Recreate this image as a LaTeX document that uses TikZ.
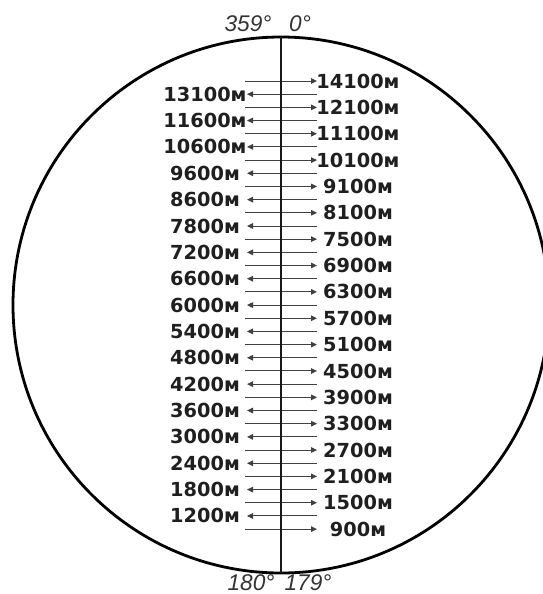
\documentclass[tikz,border=0pt]{standalone}
\usepackage{fontspec}
\setmainfont{Liberation Sans}
\newfontfamily\rangefont{DejaVu Sans}
\usetikzlibrary{arrows.meta}
\tikzset{
  rangelabel/.style={font=\rangefont\bfseries\fontsize{14.5}{14.5}\selectfont,text=black!88,inner sep=0pt},
  bearinglabel/.style={font=\itshape\fontsize{17}{17}\selectfont,text=black!80,inner sep=0pt},
  rangearrow/.style={-{Triangle[length=4.5pt,width=4.2pt]},draw=black!75,line width=0.7pt},
  rim/.style={draw=black,line width=2.1pt},
  axisline/.style={draw=black!90,line width=1.8pt}
}

\begin{document}
\begin{tikzpicture}[x=0.75pt,y=-0.75pt]
  \useasboundingbox (0,0) rectangle (543,594);
  \clip (0,0) rectangle (543,594);
  \coordinate (c) at (281,305);
  \draw[rim] (c) circle[radius=268];
  % ranges to the right of the axis
  \foreach \val [count=\k from 0] in {14100,12100,11100,10100,9100,8100,7500,6900,6300,
      5700,5100,4500,3900,3300,2700,2100,1500,900} {
    \pgfmathsetmacro\ypos{81+26.36*\k}
    \coordinate (rs\k) at (245,\ypos);
    \coordinate (re\k) at (317,\ypos);
    \draw[rangearrow] (rs\k) -- (re\k);
    \node[rangelabel] (r\val) at (358,\ypos) {\val м};
  }
  % ranges to the left of the axis
  \foreach \val [count=\k from 0] in {13100,11600,10600,9600,8600,7800,7200,6600,6000,
      5400,4800,4200,3600,3000,2400,1800,1200} {
    \pgfmathsetmacro\ypos{94.18+26.36*\k}
    \coordinate (ls\k) at (317,\ypos);
    \coordinate (le\k) at (247,\ypos);
    \draw[rangearrow] (ls\k) -- (le\k);
    \node[rangelabel] (l\val) at (205,\ypos) {\val м};
  }
  \coordinate (top) at (281,37);
  \coordinate (bot) at (281,573);
  \draw[axisline] (top) -- (bot);
  \node[bearinglabel] (b359) at (248,24) {359°};
  \node[bearinglabel] (b0) at (300,24) {0°};
  \node[bearinglabel] (b180) at (251,583) {180°};
  \node[bearinglabel] (b179) at (308,583) {179°};
\end{tikzpicture}
\end{document}
